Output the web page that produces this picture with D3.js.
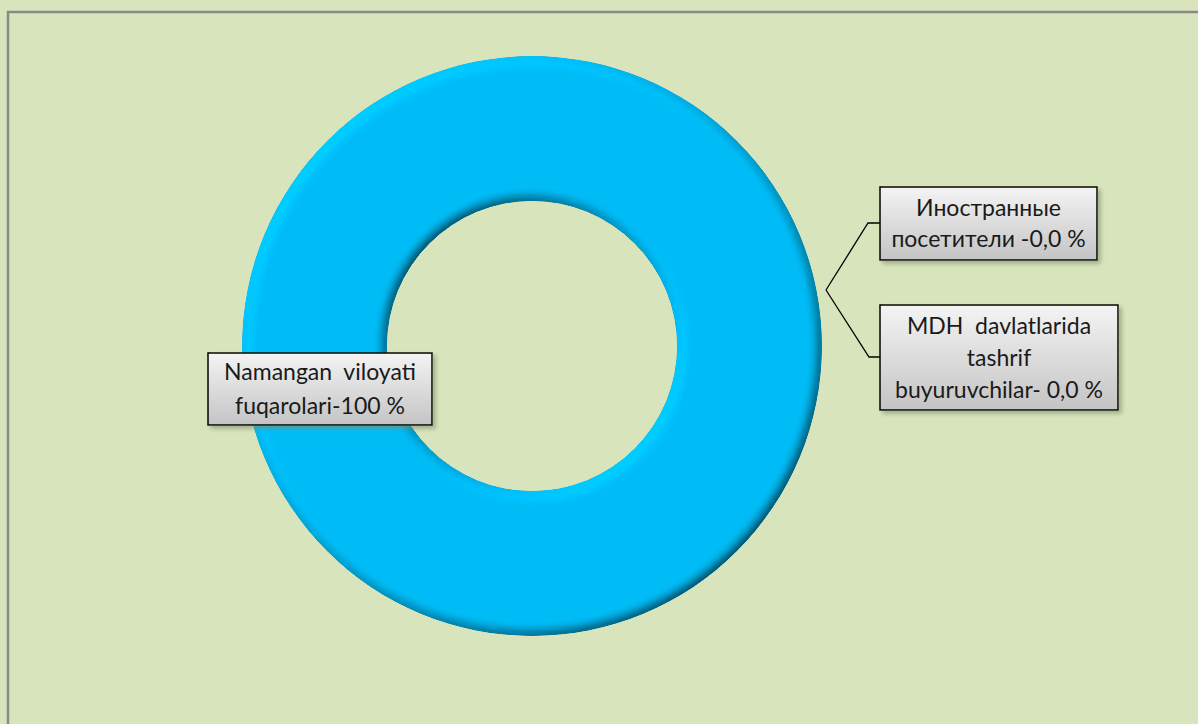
<!DOCTYPE html>
<html>
<head>
<meta charset="utf-8">
<script src="https://cdn.jsdelivr.net/npm/d3@7"></script>
<style>
  body { margin: 0; background: #d8e4bc; }
  svg { display: block; }
</style>
</head>
<body>
<div class="donut"></div>
<script>
// Chart data
const categories = ["Namangan viloyati fuqarolari", "Иностранные посетители", "MDH davlatlarida tashrif buyuruvchilar"];
const values = [100, 0, 0];
const labelLines = [
  ["Namangan  viloyati", "fuqarolari-100 %"],
  ["Иностранные", "посетители -0,0 %"],
  ["MDH  davlatlarida", "tashrif", "buyuruvchilar- 0,0 %"]
];

const width = 1198;
const height = 724;
const cx = 532, cy = 346;
const outerR = 290, innerR = 145;

const svg = d3.select(".donut")
  .append("svg")
  .attr("width", width)
  .attr("height", height);

const defs = svg.append("defs");

// bevel look for the ring, light from top-left
const bevel = defs.append("filter").attr("id", "bevel")
  .attr("x", "-10%").attr("y", "-10%").attr("width", "120%").attr("height", "120%");
bevel.append("feGaussianBlur").attr("in", "SourceAlpha").attr("stdDeviation", 6).attr("result", "blur");
bevel.append("feDiffuseLighting")
  .attr("in", "blur").attr("surfaceScale", 7).attr("diffuseConstant", 1)
  .attr("lighting-color", "#ffffff").attr("result", "diff")
  .append("feDistantLight").attr("azimuth", 225).attr("elevation", 55);
bevel.append("feComposite").attr("in", "SourceGraphic").attr("in2", "diff")
  .attr("operator", "arithmetic").attr("k1", 1.22).attr("k2", 0).attr("k3", 0).attr("k4", 0)
  .attr("result", "lit");
bevel.append("feComposite").attr("in", "lit").attr("in2", "SourceAlpha").attr("operator", "in");

// label box gradient + shadow
const grad = defs.append("linearGradient").attr("id", "boxGrad")
  .attr("x1", 0).attr("y1", 0).attr("x2", 0).attr("y2", 1);
grad.append("stop").attr("offset", "0%").attr("stop-color", "#f4f4f4");
grad.append("stop").attr("offset", "100%").attr("stop-color", "#c4c4c4");

const shadow = defs.append("filter").attr("id", "boxShadow")
  .attr("x", "-10%").attr("y", "-10%").attr("width", "130%").attr("height", "140%");
shadow.append("feDropShadow").attr("dx", 3).attr("dy", 3).attr("stdDeviation", 2)
  .attr("flood-color", "#7f8a6a").attr("flood-opacity", 0.6);

// outer frame
svg.append("rect")
  .attr("x", 8).attr("y", 12)
  .attr("width", width + 20).attr("height", height + 20)
  .attr("fill", "none")
  .attr("stroke", "#888888")
  .attr("stroke-width", 2.5);

const pie = d3.pie().sort(null).value(d => d);
const arcs = pie(values);
const arc = d3.arc().innerRadius(innerR).outerRadius(outerR);

const chart = svg.append("g").attr("transform", `translate(${cx}, ${cy})`);

chart.selectAll("path.slice")
  .data(arcs)
  .join("path")
  .attr("class", "slice")
  .attr("d", arc)
  .attr("fill", "#05bcf6")
  .attr("filter", "url(#bevel)");

// label boxes (layout)
const boxes = [
  { x: 208, y: 353, w: 224, h: 72, lh: 34 },
  { x: 880, y: 187, w: 217, h: 73, lh: 31 },
  { x: 880, y: 305, w: 238, h: 105, lh: 32 }
];

// leader lines for the two zero slices
const anchor = [826, 290];
const leaders = [
  [anchor, [868, 223], [880, 223]],
  [anchor, [869, 357], [880, 357]]
];
svg.selectAll("path.leader")
  .data(leaders)
  .join("path")
  .attr("class", "leader")
  .attr("d", d3.line())
  .attr("fill", "none")
  .attr("stroke", "#000")
  .attr("stroke-width", 1.3);

const labels = svg.selectAll("g.label")
  .data(categories)
  .join("g")
  .attr("class", "label")
  .attr("transform", (d, i) => `translate(${boxes[i].x}, ${boxes[i].y})`);

labels.append("rect")
  .attr("width", (d, i) => boxes[i].w)
  .attr("height", (d, i) => boxes[i].h)
  .attr("fill", "url(#boxGrad)")
  .attr("stroke", "#000")
  .attr("stroke-width", 1.5)
  .attr("filter", "url(#boxShadow)");

labels.each(function(d, i) {
  const b = boxes[i];
  const lines = labelLines[i];
  const top = b.h / 2 - (lines.length - 1) * b.lh / 2;
  d3.select(this).selectAll("text")
    .data(lines)
    .join("text")
    .attr("x", b.w / 2)
    .attr("y", (t, j) => top + j * b.lh)
    .attr("dy", "0.35em")
    .attr("text-anchor", "middle")
    .attr("font-family", "Lato, 'Open Sans', sans-serif")
    .attr("font-size", 23)
    .attr("fill", "#1a1a1a")
    .style("white-space", "pre")
    .text(t => t);
});
</script>
</body>
</html>
